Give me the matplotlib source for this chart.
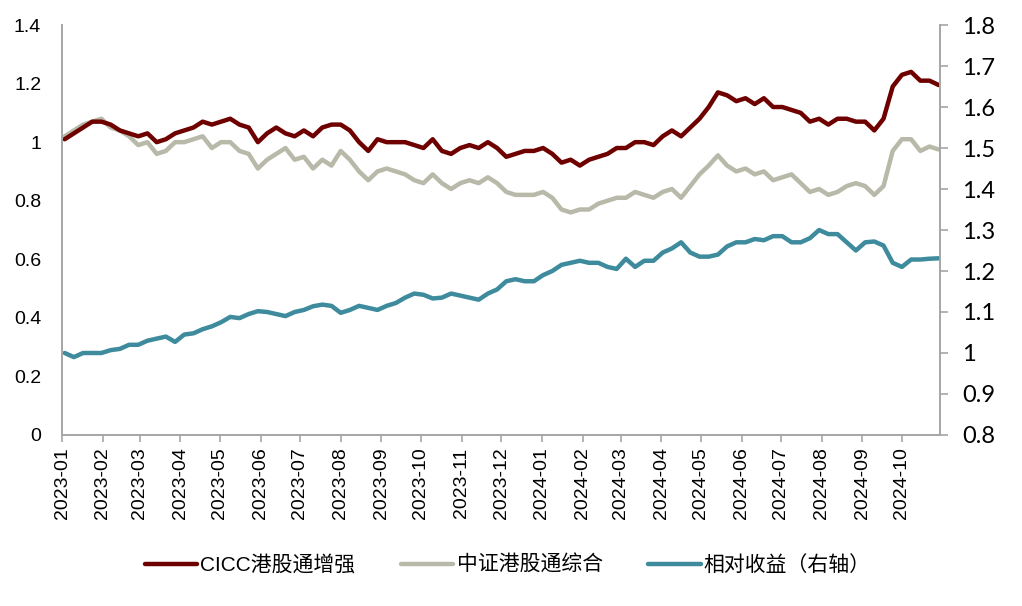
import pandas as pd
import matplotlib
matplotlib.use('Agg')
import matplotlib.pyplot as plt
import matplotlib.dates as mdates
from matplotlib.ticker import FuncFormatter, MultipleLocator

# weekly samples (Tuesdays from 2023-01-03)
dates = pd.date_range('2023-01-03', periods=96, freq='7D')

cicc = [1.01, 1.03, 1.05, 1.07, 1.07, 1.06, 1.04, 1.03, 1.02, 1.03,
        1.00, 1.01, 1.03, 1.04, 1.05, 1.07, 1.06, 1.07, 1.08, 1.06,
        1.05, 1.00, 1.03, 1.05, 1.03, 1.02, 1.04, 1.02, 1.05, 1.06,
        1.06, 1.04, 1.00, 0.97, 1.01, 1.00, 1.00, 1.00, 0.99, 0.98,
        1.01, 0.97, 0.96, 0.98, 0.99, 0.98, 1.00, 0.98, 0.95, 0.96,
        0.97, 0.97, 0.98, 0.96, 0.93, 0.94, 0.92, 0.94, 0.95, 0.96,
        0.98, 0.98, 1.00, 1.00, 0.99, 1.02, 1.04, 1.02, 1.05, 1.08,
        1.12, 1.17, 1.16, 1.14, 1.15, 1.13, 1.15, 1.12, 1.12, 1.11,
        1.10, 1.07, 1.08, 1.06, 1.08, 1.08, 1.07, 1.07, 1.04, 1.08,
        1.19, 1.23, 1.24, 1.21, 1.21, 1.195]

hsci = [1.02, 1.04, 1.06, 1.07, 1.08, 1.05, 1.04, 1.02, 0.99, 1.00,
        0.96, 0.97, 1.00, 1.00, 1.01, 1.02, 0.98, 1.00, 1.00, 0.97,
        0.96, 0.91, 0.94, 0.96, 0.98, 0.94, 0.95, 0.91, 0.94, 0.92,
        0.97, 0.94, 0.90, 0.87, 0.90, 0.91, 0.90, 0.89, 0.87, 0.86,
        0.89, 0.86, 0.84, 0.86, 0.87, 0.86, 0.88, 0.86, 0.83, 0.82,
        0.82, 0.82, 0.83, 0.81, 0.77, 0.76, 0.77, 0.77, 0.79, 0.80,
        0.81, 0.81, 0.83, 0.82, 0.81, 0.83, 0.84, 0.81, 0.85, 0.89,
        0.92, 0.955, 0.92, 0.90, 0.91, 0.89, 0.90, 0.87, 0.88, 0.89,
        0.86, 0.83, 0.84, 0.82, 0.83, 0.85, 0.86, 0.85, 0.82, 0.85,
        0.97, 1.01, 1.01, 0.97, 0.985, 0.975]

rel = [1.000, 0.990, 1.000, 1.000, 1.000, 1.007, 1.010, 1.020, 1.020, 1.030,
       1.035, 1.040, 1.027, 1.045, 1.048, 1.058, 1.065, 1.075, 1.088, 1.085,
       1.095, 1.102, 1.100, 1.095, 1.090, 1.100, 1.105, 1.114, 1.118, 1.115,
       1.098, 1.105, 1.115, 1.110, 1.105, 1.115, 1.122, 1.135, 1.145, 1.142,
       1.133, 1.135, 1.145, 1.140, 1.135, 1.130, 1.145, 1.155, 1.175, 1.180,
       1.175, 1.175, 1.190, 1.200, 1.215, 1.220, 1.225, 1.220, 1.220, 1.210,
       1.205, 1.230, 1.210, 1.225, 1.225, 1.245, 1.255, 1.270, 1.245, 1.235,
       1.235, 1.240, 1.260, 1.270, 1.270, 1.278, 1.275, 1.285, 1.285, 1.270,
       1.270, 1.280, 1.300, 1.290, 1.290, 1.270, 1.250, 1.270, 1.272, 1.262,
       1.220, 1.210, 1.228, 1.228, 1.230, 1.231]

labels = ['CICC港股通增强', '中证港股通综合', '相对收益（右轴）']
colors = ['#6e0000', '#b8b9a8', '#3d8b9c']

plt.rcParams['font.family'] = ['Liberation Sans', 'Noto Sans CJK SC']
spine_c = '#a6a6a6'

fig = plt.figure(figsize=(10.22, 6.06), dpi=100)
ax = fig.add_axes([0.0607, 0.2822, 0.8591, 0.6765])
ax2 = ax.twinx()

l2, = ax.plot(dates, hsci, color=colors[1], lw=3.2, solid_capstyle='round')
l1, = ax.plot(dates, cicc, color=colors[0], lw=3.2, solid_capstyle='round')
l3, = ax2.plot(dates, rel, color=colors[2], lw=3.2, solid_capstyle='round')

ax.set_ylim(0, 1.4)
ax2.set_ylim(0.8, 1.8)
ax.yaxis.set_major_locator(MultipleLocator(0.2))
ax2.yaxis.set_major_locator(MultipleLocator(0.1))
fmt = FuncFormatter(lambda v, p: '{:g}'.format(round(v, 2)))
ax.yaxis.set_major_formatter(fmt)
ax2.yaxis.set_major_formatter(fmt)

ax.set_xlim(pd.Timestamp('2023-01-01'), pd.Timestamp('2024-10-30'))
ax.xaxis.set_major_locator(mdates.MonthLocator())
ax.xaxis.set_major_formatter(mdates.DateFormatter('%Y-%m'))

for a in (ax, ax2):
    a.spines['top'].set_visible(False)
    for s in ('left', 'right', 'bottom'):
        a.spines[s].set_color(spine_c)
        a.spines[s].set_linewidth(1.2)

ax.tick_params(axis='y', length=0, pad=15, labelsize=14)
ax.tick_params(axis='x', length=5, width=1.2, color=spine_c, pad=4,
               labelsize=14, labelrotation=90)
ax2.tick_params(axis='y', length=6, width=1.2, color=spine_c, pad=10)
for t in ax2.get_yticklabels():
    t.set_family('Lato')
    t.set_fontsize(17)

fig.legend([l1, l2, l3], labels, loc='center', bbox_to_anchor=(0.497, 0.068),
           ncol=3, frameon=False, handlelength=2.5,
           handletextpad=0.15, columnspacing=2.2,
           prop={'family': ['Liberation Sans', 'Noto Sans CJK SC'], 'size': 15})

fig.savefig('out.png', dpi=100)
